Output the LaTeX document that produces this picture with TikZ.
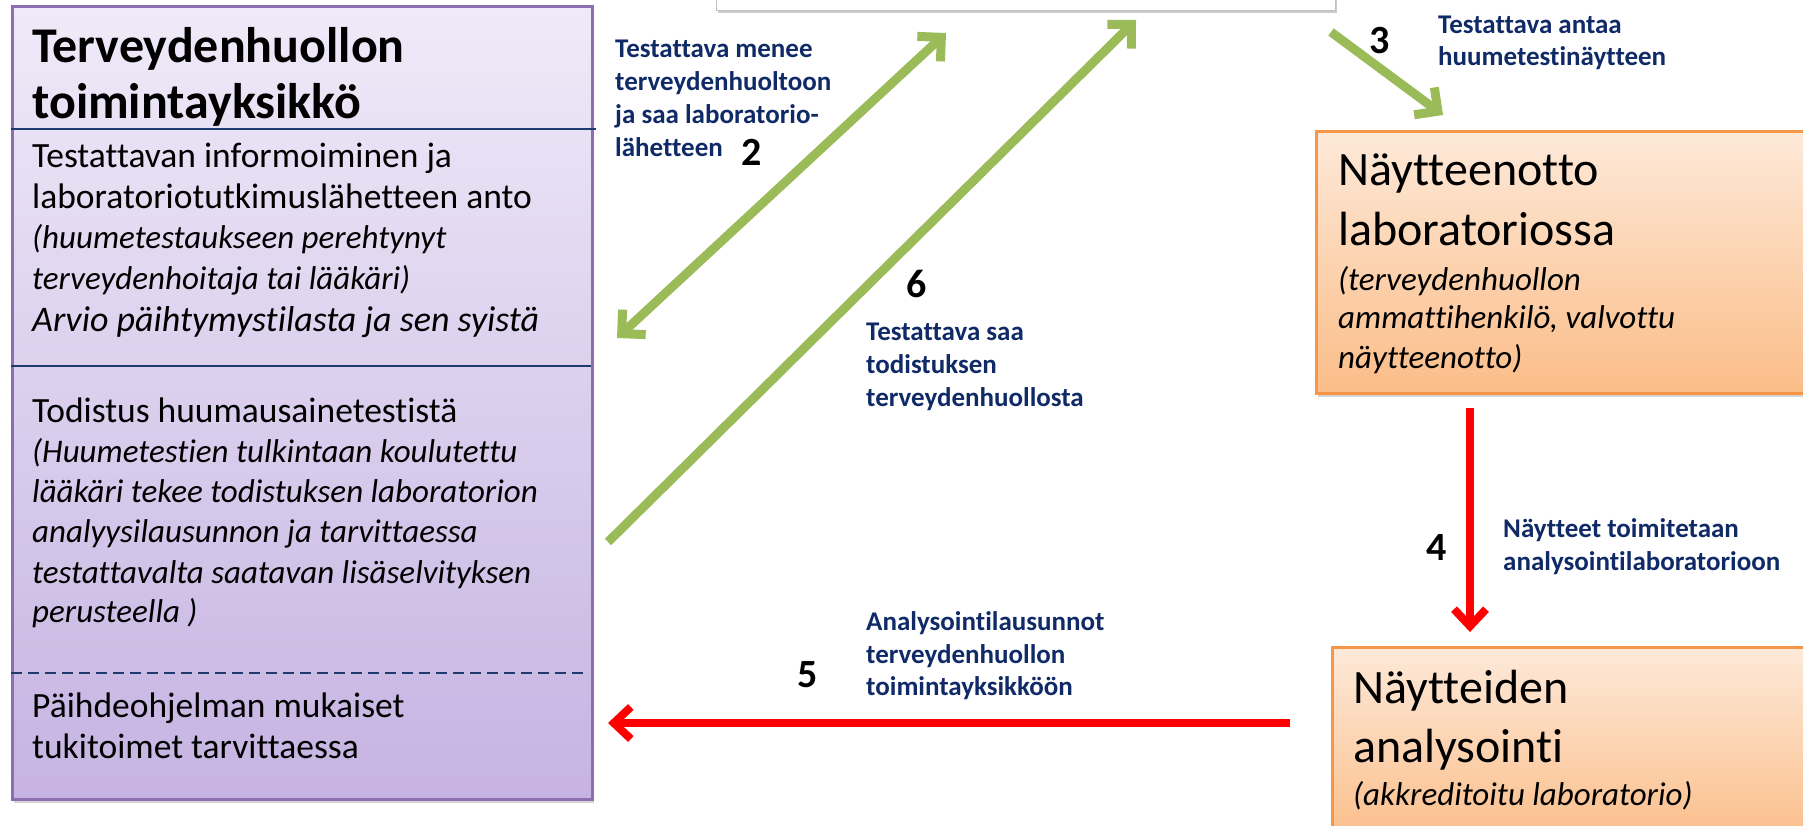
\documentclass[tikz,border=0pt]{standalone}
\usepackage{fontspec}
\setmainfont{Carlito}[Ligatures={NoCommon}]
\usetikzlibrary{arrows.meta,shadows}
\definecolor{lavTop}{HTML}{EFEAF8}
\definecolor{lavBot}{HTML}{C6B3E2}
\definecolor{lavBorder}{HTML}{8B6FB0}
\definecolor{oraTop}{HTML}{FDE9D9}
\definecolor{oraBot}{HTML}{FBBD88}
\definecolor{oraBorder}{HTML}{F79646}
\definecolor{navy}{HTML}{0F2A66}
\definecolor{divline}{HTML}{1F3A6E}
\definecolor{grn}{HTML}{9BBB59}
\definecolor{rd}{HTML}{FF0000}
\tikzset{
  lavbox/.style={draw=lavBorder, line width=2.5pt, top color=lavTop, bottom color=lavBot,
    anchor=north west, inner sep=0pt,
    drop shadow={shadow xshift=2pt, shadow yshift=-4pt, opacity=0.35}},
  orabox/.style={draw=oraBorder, line width=2.5pt, top color=oraTop, bottom color=oraBot,
    anchor=north west, inner sep=0pt,
    drop shadow={shadow xshift=2pt, shadow yshift=-4pt, opacity=0.35}},
  topbox/.style={draw=black!25, line width=1pt, fill=white, anchor=north west, inner sep=0pt,
    drop shadow={shadow xshift=1pt, shadow yshift=-2pt, opacity=0.4}},
  ttl/.style={anchor=base west, inner sep=0pt, font=\fontsize{50}{58}\selectfont\bfseries},
  body/.style={anchor=base west, inner sep=0pt, font=\fontsize{35.5}{40}\selectfont},
  bodyit/.style={anchor=base west, inner sep=0pt, font=\fontsize{33}{40}\selectfont\itshape},
  arvio/.style={anchor=base west, inner sep=0pt, font=\fontsize{36}{40}\selectfont\itshape},
  big/.style={anchor=base west, inner sep=0pt, font=\fontsize{48}{56}\selectfont},
  lbl/.style={anchor=base west, inner sep=0pt, text=navy, font=\fontsize{27}{33}\selectfont\bfseries},
  num/.style={anchor=base west, inner sep=0pt, font=\fontsize{40}{48}\selectfont\bfseries},
  divider/.style={draw=divline, line width=2.5pt},
  grnarrow/.style={draw=grn, line width=9pt, -{Straight Barb[length=17pt,width=34pt]}},
  redarrow/.style={draw=rd, line width=8pt, -{Straight Barb[length=17pt,width=32pt]}},
}
\begin{document}
\begin{tikzpicture}[x=1pt,y=-1pt]
\useasboundingbox (0,0) rectangle (1803,825);

% boxes
\node[topbox, minimum width=619pt, minimum height=60pt] (topb) at (716,-50) {};
\node[lavbox, minimum width=580pt, minimum height=793pt] (left) at (11,5) {};
\node[orabox, minimum width=510pt, minimum height=262pt] (samp) at (1315,130) {};
\node[orabox, minimum width=490pt, minimum height=200pt] (anal) at (1331,646) {};

% left box dividers
\coordinate (d1a) at (11,129); \coordinate (d1b) at (596,129);
\coordinate (d2a) at (11,366); \coordinate (d2b) at (591,366);
\coordinate (d3a) at (11,673); \coordinate (d3b) at (587,673);
\draw[divider] (d1a) -- (d1b);
\draw[divider] (d2a) -- (d2b);
\draw[divider, dash pattern=on 11pt off 6pt] (d3a) -- (d3b);

% left box text
\node[ttl] (t1) at (32,62) {Terveydenhuollon};
\node[ttl] (t2) at (32,118) {toimintayksikkö};
\node[body] (b1) at (32,167) {Testattavan informoiminen ja};
\node[body] (b2) at (32,208) {laboratoriotutkimuslähetteen anto};
\node[bodyit] (b3) at (32,248) {(huumetestaukseen perehtynyt};
\node[bodyit] (b4) at (32,289) {terveydenhoitaja tai lääkäri)};
\node[arvio] (b5) at (32,331) {Arvio päihtymystilasta ja sen syistä};
\node[body] (c1) at (32,422) {Todistus huumausainetestistä};
\node[bodyit] (c2) at (32,462) {(Huumetestien tulkintaan koulutettu};
\node[bodyit] (c3) at (32,502) {lääkäri tekee todistuksen laboratorion};
\node[bodyit] (c4) at (32,542) {analyysilausunnon ja tarvittaessa};
\node[bodyit] (c5) at (32,583) {testattavalta saatavan lisäselvityksen};
\node[bodyit] (c6) at (32,622) {perusteella )};
\node[body] (e1) at (32,717) {Päihdeohjelman mukaiset};
\node[body] (e2) at (32,758) {tukitoimet tarvittaessa};

% right box texts
\node[big] (s1) at (1338,185) {Näytteenotto};
\node[big] (s2) at (1338,245) {laboratoriossa};
\node[bodyit] (s3) at (1338,290) {(terveydenhuollon};
\node[bodyit] (s4) at (1338,328) {ammattihenkilö, valvottu};
\node[bodyit] (s5) at (1338,368) {näytteenotto)};
\node[big] (n1) at (1353,703) {Näytteiden};
\node[big] (n2) at (1353,762) {analysointi};
\node[bodyit] (n3) at (1353,805) {(akkreditoitu laboratorio)};

% arrows
\coordinate (a2s) at (617,338); \coordinate (a2e) at (946,33);
\coordinate (a6s) at (608,542); \coordinate (a6e) at (1136,20);
\coordinate (a3s) at (1331,32); \coordinate (a3e) at (1443,115);
\coordinate (a4s) at (1470,408); \coordinate (a4e) at (1470,632);
\coordinate (a5s) at (1290,723); \coordinate (a5e) at (608,723);
\draw[grnarrow, {Straight Barb[length=17pt,width=34pt]}-{Straight Barb[length=17pt,width=34pt]}] (a2s) -- (a2e);
\draw[grnarrow] (a6s) -- (a6e);
\draw[grnarrow] (a3s) -- (a3e);
\draw[redarrow] (a4s) -- (a4e);
\draw[redarrow] (a5s) -- (a5e);

% labels
\node[lbl] (l2a) at (615,57) {Testattava menee};
\node[lbl] (l2b) at (615,90) {terveydenhuoltoon};
\node[lbl] (l2c) at (615,123) {ja saa laboratorio-};
\node[lbl] (l2d) at (615,156) {lähetteen};
\node[num] (n2num) at (741,165) {2};
\node[num] (n6num) at (906,297) {6};
\node[lbl] (l6a) at (866,340) {Testattava saa};
\node[lbl] (l6b) at (866,373) {todistuksen};
\node[lbl] (l6c) at (866,406) {terveydenhuollosta};
\node[num] (n3num) at (1369,53) {3};
\node[lbl] (l3a) at (1438,33) {Testattava antaa};
\node[lbl] (l3b) at (1438,65) {huumetestinäytteen};
\node[num] (n4num) at (1426,560) {4};
\node[lbl] (l4a) at (1503,537) {Näytteet toimitetaan};
\node[lbl] (l4b) at (1503,570) {analysointilaboratorioon};
\node[num] (n5num) at (797,687) {5};
\node[lbl] (l5a) at (866,630) {Analysointilausunnot};
\node[lbl] (l5b) at (866,663) {terveydenhuollon};
\node[lbl] (l5c) at (866,695) {toimintayksikköön};
\end{tikzpicture}
\end{document}
